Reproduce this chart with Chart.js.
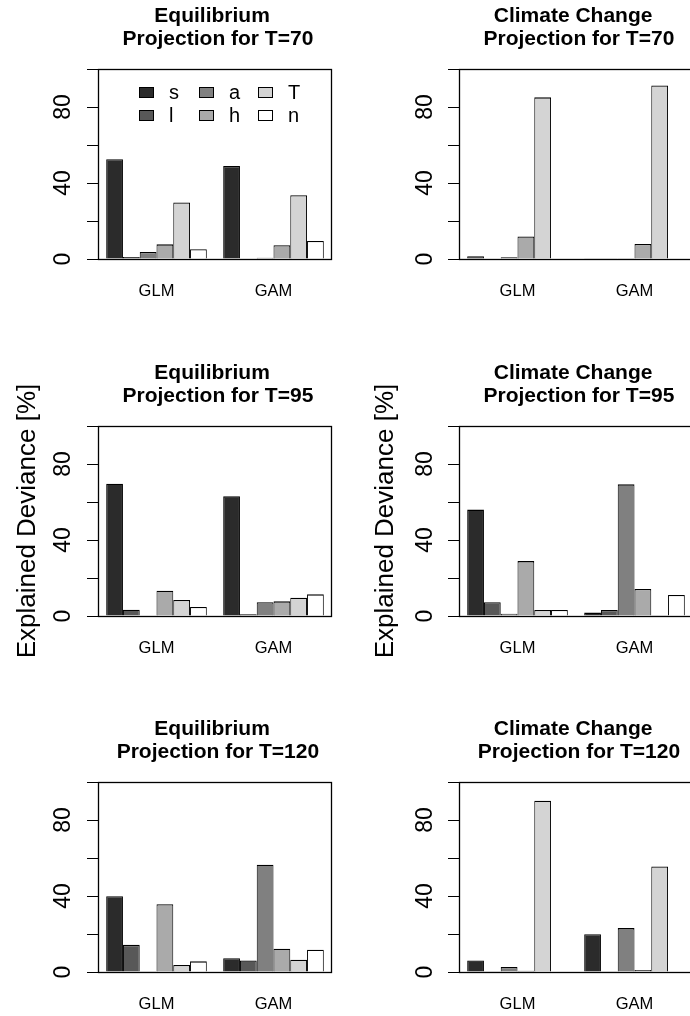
<!DOCTYPE html>
<html>
<head>
<meta charset="utf-8">
<script src="https://cdn.jsdelivr.net/npm/chart.js@4.4.1/dist/chart.umd.min.js"></script>
<style>
  html, body { margin: 0; padding: 0; background: #fff; overflow: hidden; }
  body { width: 690px; height: 1016px; position: relative; }
  canvas { position: absolute; }
</style>
</head>
<body>
<canvas id="p1"></canvas>
<canvas id="p2"></canvas>
<canvas id="p3"></canvas>
<canvas id="p4"></canvas>
<canvas id="p5"></canvas>
<canvas id="p6"></canvas>
<script>
// Data
const categories = ['GLM', 'GAM'];
const seriesNames = ['s', 'l', 'a', 'h', 'T', 'n'];
const seriesColors = ['#2b2b2b', '#585858', '#808080', '#aaaaaa', '#d4d4d4', '#ffffff'];
const yTickValues = [0, 20, 40, 60, 80, 100];
const yTickLabels = [0, 40, 80];
const yLabel = 'Explained Deviance [%]';

// values in order s, l, a, h, T, n
const eqT70GLM = [52.5, 1.0, 3.7, 7.7, 29.8, 5.1];
const eqT70GAM = [48.9, 0.2, 0.7, 7.2, 33.6, 9.5];
const ccT70GLM = [1.4, 0.2, 0.9, 11.9, 85.1, 0.2];
const ccT70GAM = [0.1, 0.1, 0.1, 7.9, 91.4, 0.3];
const eqT95GLM = [69.6, 3.3, 0.2, 13.3, 8.4, 4.7];
const eqT95GAM = [63.0, 0.9, 7.2, 7.7, 9.6, 11.4];
const ccT95GLM = [56.0, 7.2, 1.2, 28.9, 3.2, 3.2];
const ccT95GAM = [1.8, 3.2, 69.3, 14.2, 0.1, 11.1];
const eqT120GLM = [39.9, 14.3, 0.1, 35.7, 3.7, 5.6];
const eqT120GAM = [7.2, 6.1, 56.5, 12.2, 6.5, 11.7];
const ccT120GLM = [6.1, 0.1, 2.6, 0.6, 90.2, 0.3];
const ccT120GAM = [19.9, 0.1, 23.1, 1.0, 55.6, 0.2];

const FONT = "'Liberation Sans', Arial, Helvetica, sans-serif";
Chart.defaults.font.family = FONT;
Chart.defaults.color = '#000';

// frame around the plot region
const framePlugin = {
    id: 'frame',
    afterDraw(chart) {
        const a = chart.chartArea;
        const ctx = chart.ctx;
        ctx.save();
        ctx.strokeStyle = '#000';
        ctx.lineWidth = 1.3;
        ctx.strokeRect(Math.round(a.left) + 0.5, Math.round(a.top) + 0.5,
            Math.round(a.right - a.left) - 1, Math.round(a.bottom - a.top));
        ctx.restore();
    }
};

// legend drawn inside the plot, two rows, filled by column
const insideLegend = {
    id: 'insideLegend',
    afterDraw(chart, args, opts) {
        if (!opts.show) return;
        const a = chart.chartArea;
        const ctx = chart.ctx;
        ctx.save();
        ctx.font = '20px ' + FONT;
        ctx.textBaseline = 'middle';
        ctx.textAlign = 'left';
        chart.data.datasets.forEach((ds, i) => {
            const col = Math.floor(i / 2), row = i % 2;
            const bx = Math.round(a.left + 41 + col * 59.5);
            const by = Math.round(a.top + 18 + row * 22.7);
            ctx.fillStyle = ds.backgroundColor;
            ctx.fillRect(bx, by, 15, 11);
            ctx.strokeStyle = '#000';
            ctx.lineWidth = 1;
            ctx.strokeRect(bx + 0.5, by + 0.5, 14, 10);
            ctx.fillStyle = '#000';
            ctx.fillText(ds.label, bx + 30, by + 6);
        });
        ctx.restore();
    }
};

const panels = [
    { id: 'p1', left: 0,   top: 0,   col: 0, title: ['Equilibrium ', ' Projection for T=70'],     glm: eqT70GLM,  gam: eqT70GAM,  legend: true,  ylab: false },
    { id: 'p2', left: 345, top: 0,   col: 1, title: ['Climate Change ', ' Projection for T=70'],  glm: ccT70GLM,  gam: ccT70GAM,  legend: false, ylab: false },
    { id: 'p3', left: 0,   top: 357, col: 0, title: ['Equilibrium ', ' Projection for T=95'],     glm: eqT95GLM,  gam: eqT95GAM,  legend: false, ylab: true },
    { id: 'p4', left: 345, top: 357, col: 1, title: ['Climate Change ', ' Projection for T=95'],  glm: ccT95GLM,  gam: ccT95GAM,  legend: false, ylab: true },
    { id: 'p5', left: 0,   top: 713, col: 0, title: ['Equilibrium ', ' Projection for T=120'],    glm: eqT120GLM, gam: eqT120GAM, legend: false, ylab: false },
    { id: 'p6', left: 345, top: 713, col: 1, title: ['Climate Change ', ' Projection for T=120'], glm: ccT120GLM, gam: ccT120GAM, legend: false, ylab: false }
];

// per column layout
const colLayout = [
    { width: 345, axisW: 98,  padRight: 13, tickPad: 11, ylabPad: 12 },
    { width: 350, axisW: 114, padRight: 2,  tickPad: 10, ylabPad: 25 }
];

panels.forEach(p => {
    const cl = colLayout[p.col];
    const canvas = document.getElementById(p.id);
    canvas.width = cl.width;
    canvas.height = 309;
    canvas.style.left = p.left + 'px';
    canvas.style.top = p.top + 'px';

    const datasets = seriesNames.map((name, i) => ({
        label: name,
        data: [p.glm[i], p.gam[i]],
        backgroundColor: seriesColors[i],
        borderColor: '#000',
        borderWidth: { top: 1.3, left: 1, right: 1, bottom: 0 },
        borderSkipped: false,
        categoryPercentage: 0.86,
        barPercentage: 1.0
    }));

    new Chart(canvas.getContext('2d'), {
        type: 'bar',
        data: { labels: categories, datasets },
        options: {
            responsive: false,
            animation: false,
            devicePixelRatio: 1,
            layout: { padding: { top: 0, left: 0, right: cl.padRight, bottom: 0 } },
            plugins: {
                legend: { display: false },
                tooltip: { enabled: false },
                title: {
                    display: true,
                    text: p.title,
                    fullSize: false,
                    color: '#000',
                    font: { size: 21, weight: 'bold', lineHeight: 1.12 },
                    padding: { top: 4, bottom: 18 }
                },
                insideLegend: { show: p.legend }
            },
            scales: {
                x: {
                    type: 'category',
                    offset: true,
                    grid: { display: false, drawTicks: false },
                    border: { display: false },
                    ticks: { font: { size: 16.5 }, color: '#000', padding: 23, autoSkip: false, maxRotation: 0 },
                    afterFit: s => { s.height = 50; }
                },
                y: {
                    min: 0,
                    max: 100,
                    afterBuildTicks: s => { s.ticks = yTickValues.map(v => ({ value: v })); },
                    grid: { drawOnChartArea: false, drawTicks: true, tickLength: 11, color: '#000', lineWidth: 1 },
                    border: { display: false },
                    ticks: {
                        autoSkip: false,
                        minRotation: 90,
                        maxRotation: 90,
                        crossAlign: 'center',
                        padding: cl.tickPad,
                        color: '#000',
                        font: { size: 23 },
                        callback: v => yTickLabels.includes(v) ? String(v) : ''
                    },
                    title: {
                        display: p.ylab,
                        text: yLabel,
                        color: '#000',
                        font: { size: 26 },
                        padding: { top: cl.ylabPad, bottom: 0 }
                    },
                    afterFit: s => { s.width = cl.axisW; }
                }
            }
        },
        plugins: [framePlugin, insideLegend]
    });
});
</script>
</body>
</html>
